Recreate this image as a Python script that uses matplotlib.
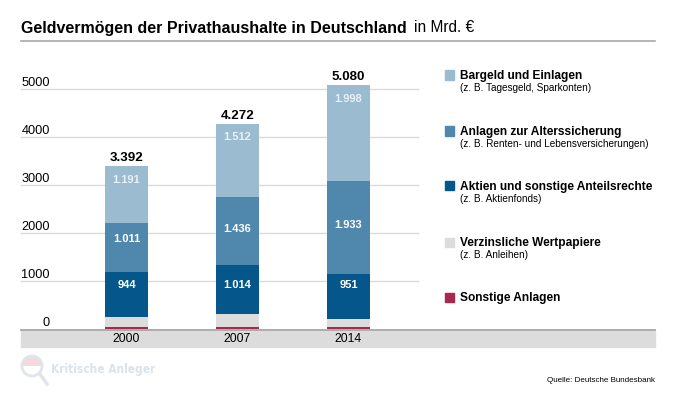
import matplotlib as mpl
mpl.use("Agg")
import matplotlib.pyplot as plt
from matplotlib.patches import Circle, Rectangle, Wedge
from matplotlib.lines import Line2D

years = ["2000", "2007", "2014"]
sonstige = [46, 40, 40]
verzinslich = [200, 270, 158]
aktien = [944, 1014, 951]
alters = [1011, 1436, 1933]
bargeld = [1191, 1512, 1998]
totals = ["3.392", "4.272", "5.080"]
aktien_lbl = ["944", "1.014", "951"]
alters_lbl = ["1.011", "1.436", "1.933"]
bargeld_lbl = ["1.191", "1.512", "1.998"]
yticks = [0, 1000, 2000, 3000, 4000, 5000]
total_vals = [3392, 4272, 5080]

legend_names = ["Bargeld und Einlagen", "Anlagen zur Alterssicherung",
                "Aktien und sonstige Anteilsrechte", "Verzinsliche Wertpapiere",
                "Sonstige Anlagen"]
legend_subs = ["(z. B. Tagesgeld, Sparkonten)", "(z. B. Renten- und Lebensversicherungen)",
               "(z. B. Aktienfonds)", "(z. B. Anleihen)", ""]
colors = ["#9abbd0", "#4f87ad", "#05568a", "#dcdcdc", "#a9284e"]

plt.rcParams['font.family'] = ['Liberation Sans', 'DejaVu Sans']

W, H = 680, 405
fig = plt.figure(figsize=(W / 100, H / 100), dpi=100)

# axes: zero line at y=329, 48 px per 1000
ax = fig.add_axes([21 / W, 1 - 329 / H, 634 / W, 269 / H])
ax.set_ylim(0, 269 / 0.048)
ax.set_xlim(-105.5 / 111, 528.5 / 111)
ax.axis("off")

for t in yticks[1:]:
    ax.plot([-105.5 / 111, 291.5 / 111], [t, t], color="#dadada", lw=1.0, zorder=1)

x = range(3)
w = 43 / 111
bottom = [0, 0, 0]
for vals, c in zip([sonstige, verzinslich, aktien, alters, bargeld], colors[::-1]):
    ax.bar(x, vals, width=w, bottom=bottom, color=c, zorder=2)
    bottom = [b + v for b, v in zip(bottom, vals)]

# labels sit a bit off centre in the original, so place by pixel row
aktien_row = [284.5, 284.5, 285.5]
alters_row = [238.5, 229.5, 225.5]
for i in x:
    ax.text(i, (329 - aktien_row[i]) / 0.048, aktien_lbl[i], color="white", fontsize=8.0,
            fontweight="bold", ha="center", va="center", zorder=3)
    ax.text(i, (329 - alters_row[i]) / 0.048, alters_lbl[i], color="white", fontsize=8.0,
            fontweight="bold", ha="center", va="center", zorder=3)
    ax.text(i, total_vals[i] - 280, bargeld_lbl[i], color="#e9f0f5", fontsize=8.0,
            fontweight="bold", ha="center", va="center", zorder=3)
    ax.text(i, total_vals[i] + 170, totals[i], color="black", fontsize=9.6,
            fontweight="bold", ha="center", va="center", zorder=3)

for t in yticks:
    ax.text(-0.69, t + 135, str(t), fontsize=9.2, ha="right", va="center", color="black")

# band under the axis
fig.add_artist(Rectangle((21 / W, 1 - 347 / H), 634 / W, 17.5 / H, color="#dcdcdc",
                         transform=fig.transFigure, zorder=0))
fig.add_artist(Line2D([21 / W, 655 / W], [1 - 329.7 / H] * 2, color="#a8a8a8", lw=1.3, zorder=1))
for i, y in enumerate(years):
    fig.text((126.5 + 111 * i) / W, 1 - 339.5 / H, y, fontsize=8.8, ha="center", va="center")

# title
fig.text(21 / W, 1 - 28 / H, "Geldvermögen der Privathaushalte in Deutschland", fontsize=11.55,
         fontweight="bold", ha="left", va="center")
fig.text(414 / W, 1 - 28 / H, "in Mrd. €", fontsize=11.2, ha="left", va="center")
fig.add_artist(Line2D([21 / W, 655 / W], [1 - 41 / H] * 2, color="#a8a8a8", lw=1.2))

# legend
leg_y = [75, 131, 186, 242, 297]
for name, sub, c, y in zip(legend_names, legend_subs, colors, leg_y):
    fig.add_artist(Rectangle((445 / W, 1 - (y + 4.5) / H), 9 / W, 9 / H, color=c,
                             transform=fig.transFigure))
    fig.text(460 / W, 1 - (y + 0.7) / H, name, fontsize=8.55, fontweight="bold", ha="left", va="center")
    if sub:
        fig.text(460 / W, 1 - (y + 13) / H, sub, fontsize=7.2, ha="left", va="center")

fig.text(655 / W, 1 - 381 / H, "Quelle: Deutsche Bundesbank", fontsize=5.75, ha="right", va="center")

# watermark logo
lax = fig.add_axes([0, 0, 1, 1], facecolor="none")
lax.set_xlim(0, W)
lax.set_ylim(H, 0)
lax.axis("off")
lax.add_patch(Wedge((32, 366), 10, 180, 360, facecolor="#f3d9de", edgecolor="none"))
lax.add_patch(Circle((32, 366), 10, facecolor="none", edgecolor="#dfe5eb", lw=2))
lax.plot([40, 47], [374, 384], color="#dfe5eb", lw=2.5)
lax.text(51, 370, "Kritische Anleger", fontsize=8.6, fontweight="bold", color="#dbe3ea",
         family="DejaVu Sans", stretch="condensed", ha="left", va="center")

fig.savefig("out.png", dpi=100)
